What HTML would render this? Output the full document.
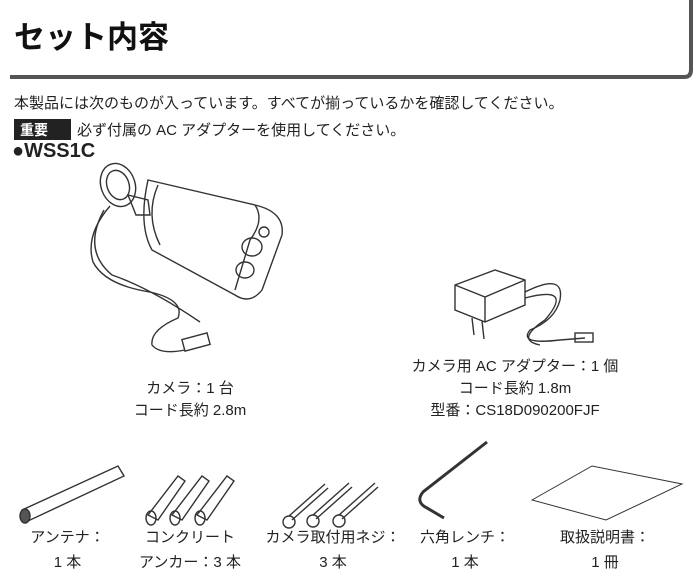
<!DOCTYPE html>
<html><head><meta charset="utf-8"><style>
body{margin:0;width:700px;height:583px;background:#fff;font-family:"Liberation Sans","Noto Sans CJK JP",sans-serif;color:#222;position:relative;overflow:hidden}
.t{position:absolute;white-space:nowrap}
.c{text-align:center}
</style></head><body>
<svg width="700" height="583" style="position:absolute;left:0;top:0">
<path d="M10 77 H684 Q691 77 691 70 V0" fill="none" stroke="#555" stroke-width="4"/>
<rect x="14" y="119" width="57" height="21" fill="#222"/>
<g fill="none" stroke="#333" stroke-width="1.4">
<!-- camera -->
<ellipse cx="118" cy="185" rx="17" ry="22" transform="rotate(-20 118 185)"/>
<ellipse cx="118" cy="185" rx="11" ry="15" transform="rotate(-20 118 185)"/>
<path d="M128 195 L148 200 L150 215 L136 215 Z"/>
<path d="M148 180 L255 205 Q285 212 282 235 L262 290 Q250 305 235 295 L152 250 Q138 225 148 180 Z"/>
<path d="M158 185 Q145 215 160 245"/>
<path d="M255 205 Q265 220 250 240 L235 290"/>
<ellipse cx="252" cy="247" rx="10" ry="9"/><ellipse cx="245" cy="270" rx="9" ry="8"/><circle cx="264" cy="232" r="5"/>
<path d="M110 206 Q85 235 93 262 Q105 285 150 292 Q185 300 178 318 Q150 330 152 345 Q160 355 185 350"/>
<path d="M104 210 Q82 250 112 275 Q150 288 200 322"/>
<rect x="183" y="336" width="26" height="12" transform="rotate(-15 196 342)"/>
<!-- adapter -->
<path d="M455 285 L495 270 L525 280 L525 305 L485 322 L455 310 Z"/>
<path d="M455 285 L485 297 L525 280 M485 297 L485 322"/>
<path d="M472 318 L474 335 M482 321 L484 339"/>
<path d="M525 292 Q565 272 560 300 Q555 320 530 330 Q518 345 560 340 L585 338"/>
<path d="M525 298 Q575 285 545 320 Q515 340 540 345"/>
<rect x="575" y="333" width="18" height="9"/>
<!-- antenna -->
<path d="M22 510 L118 466 L124 476 L28 521 Z"/>
<ellipse cx="25" cy="516" rx="5" ry="7" fill="#555"/>
<!-- anchors -->
<g id="a"><path d="M148 515 L178 476 L185 481 L158 520 Z"/><ellipse cx="151" cy="518" rx="5" ry="7"/></g>
<use href="#a" x="24" y="0"/><use href="#a" x="49" y="0"/>
<!-- screws -->
<g id="s"><path d="M292 520 L328 488"/><path d="M289 516 L325 484"/><circle cx="289" cy="522" r="6"/></g>
<use href="#s" x="24" y="-1"/><use href="#s" x="50" y="-1"/>
<!-- wrench -->
<path d="M487 442 L423 492 Q415 502 427 508 L444 518" stroke-width="3"/>
<!-- manual -->
<path d="M532 500 L592 466 L682 484 L606 520 Z" stroke-width="1"/>
</g>
</svg>
<div class="t" style="left:14px;top:12px;font-size:31px;font-weight:bold;color:#111">セット内容</div>
<div class="t" style="left:14px;top:92px;font-size:15px">本製品には次のものが入っています。すべてが揃っているかを確認してください。</div>
<div class="t" style="left:20px;top:120px;font-size:14px;color:#fff;font-weight:bold">重要</div>
<div class="t" style="left:77px;top:119px;font-size:15px">必ず付属の AC アダプターを使用してください。</div>
<div class="t" style="left:12px;top:140px;font-size:20px;font-weight:bold">●WSS1C</div>
<div class="t c" style="left:90px;width:200px;top:378px;font-size:15px;line-height:22px">カメラ：1 台<br>コード長約 2.8m</div>
<div class="t c" style="left:410px;width:210px;top:356px;font-size:15px;line-height:22px">カメラ用 AC アダプター：1 個<br>コード長約 1.8m<br>型番：CS18D090200FJF</div>
<div class="t c" style="left:20px;width:95px;top:525px;font-size:15px;line-height:25px">アンテナ：<br>1 本</div>
<div class="t c" style="left:130px;width:120px;top:525px;font-size:15px;line-height:25px">コンクリート<br>アンカー：3 本</div>
<div class="t c" style="left:253px;width:160px;top:525px;font-size:15px;line-height:25px">カメラ取付用ネジ：<br>3 本</div>
<div class="t c" style="left:410px;width:110px;top:525px;font-size:15px;line-height:25px">六角レンチ：<br>1 本</div>
<div class="t c" style="left:550px;width:110px;top:525px;font-size:15px;line-height:25px">取扱説明書：<br>1 冊</div>
</body></html>
